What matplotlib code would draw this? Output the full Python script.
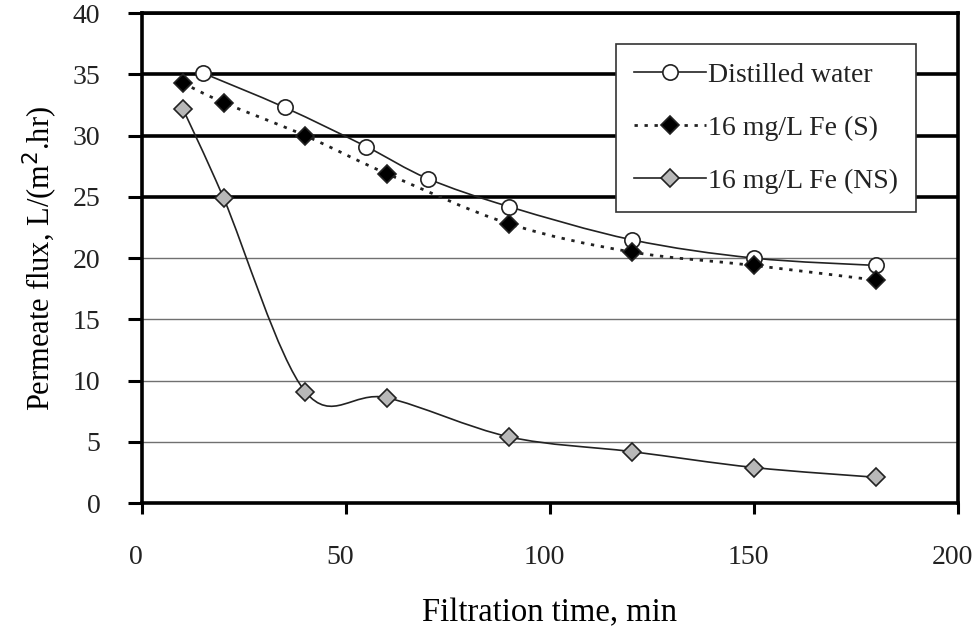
import matplotlib.pyplot as plt
import matplotlib.transforms as mtransforms
import numpy as np
from matplotlib.path import Path
from matplotlib.patches import PathPatch
from matplotlib.lines import Line2D

# data
time_dw = [15, 35, 55, 70, 90, 120, 150, 180]
flux_dw = [35.1, 32.3, 29.1, 26.5, 24.2, 21.5, 20.0, 19.4]

time_s = [10, 20, 40, 60, 90, 120, 150, 180]
flux_s = [34.3, 32.7, 30.0, 26.9, 22.8, 20.5, 19.4, 18.2]

time_ns = [10, 20, 40, 60, 90, 120, 150, 180]
flux_ns = [32.2, 24.9, 9.1, 8.6, 5.4, 4.2, 2.9, 2.1]

y_ticks = [0, 5, 10, 15, 20, 25, 30, 35, 40]
x_ticks = [0, 50, 100, 150, 200]


def smooth_path(x, y):
    """Excel-like smoothed line: cubic Bezier segments (Catmull-Rom)."""
    p = np.column_stack([x, y]).astype(float)
    n = len(p)
    verts = [p[0]]
    codes = [Path.MOVETO]
    for i in range(n - 1):
        p0 = p[i - 1] if i > 0 else p[i]
        p3 = p[i + 2] if i + 2 < n else p[i + 1]
        c1 = p[i] + (p[i + 1] - p0) / 6
        c2 = p[i + 1] - (p3 - p[i]) / 6
        verts += [c1, c2, p[i + 1]]
        codes += [Path.CURVE4] * 3
    return Path(verts, codes)


plt.rcParams['font.family'] = ['Liberation Serif', 'DejaVu Serif']
plt.rcParams['text.color'] = '#222222'

fig = plt.figure(figsize=(9.76, 6.28), dpi=100)
ax = fig.add_axes([0.1455, 0.199, 0.836, 0.780])

# grid lines: thin grey below 25, heavy black from 25 upward
for v in y_ticks[1:]:
    if v >= 25:
        ax.axhline(v, color='black', lw=2.6, zorder=1)
    else:
        ax.axhline(v, color='#707070', lw=1.0, zorder=1)

series = [
    (time_dw, flux_dw, '-', 'o', 'white', 11, 'Distilled water'),
    (time_s, flux_s, (0, (1.2, 2.4)), 'D', 'black', 9, '16 mg/L Fe (S)'),
    (time_ns, flux_ns, '-', 'D', '#b8b8b8', 9, '16 mg/L Fe (NS)'),
]

handles = []
for x, y, ls, mk, fc, ms, label in series:
    lw = 2.0 if ls != '-' else 1.2
    ax.add_patch(PathPatch(smooth_path(x, y), fill=False, edgecolor='#222222',
                           lw=lw, linestyle=ls, zorder=3))
    ax.plot(x, y, linestyle='none', marker=mk, ms=ms, mfc=fc, mec='#222222',
            mew=1.2, zorder=4)
    handles.append(Line2D([], [], color='#222222', lw=lw, linestyle=ls,
                          marker=mk, ms=ms, mfc=fc, mec='#222222', mew=1.2,
                          label=label))

ax.set_xlim(0, 200)
ax.set_ylim(0, 40)
ax.set_xticks(x_ticks)
ax.set_yticks(y_ticks)
ax.tick_params(labelsize=20, width=2.2, direction='out', labelcolor='#222222')
ax.tick_params(axis='x', length=8, pad=22)
ax.tick_params(axis='y', length=10, pad=20)

# x tick labels sit a little left of their ticks in the reference
shift = mtransforms.ScaledTranslation(-0.06, 0, fig.dpi_scale_trans)
for lab in ax.get_xticklabels():
    lab.set_transform(lab.get_transform() + shift)

for side in ['left', 'bottom', 'right', 'top']:
    ax.spines[side].set_linewidth(2.6)

ax.set_xlabel('Filtration time, min', fontsize=23.5, labelpad=20)
ax.set_ylabel('Permeate flux, L/(m$^2$.hr)', fontsize=22, labelpad=9)

leg = ax.legend(handles=handles, loc='upper right', bbox_to_anchor=(0.9485, 0.937),
                fontsize=20, frameon=True, fancybox=False, framealpha=1,
                edgecolor='#333333', handlelength=2.6, handletextpad=0.05,
                labelspacing=1.0, borderpad=0.65, borderaxespad=0)
leg.get_frame().set_linewidth(1.2)
leg.set_zorder(5)

plt.savefig('out.png', dpi=100)
plt.close()
